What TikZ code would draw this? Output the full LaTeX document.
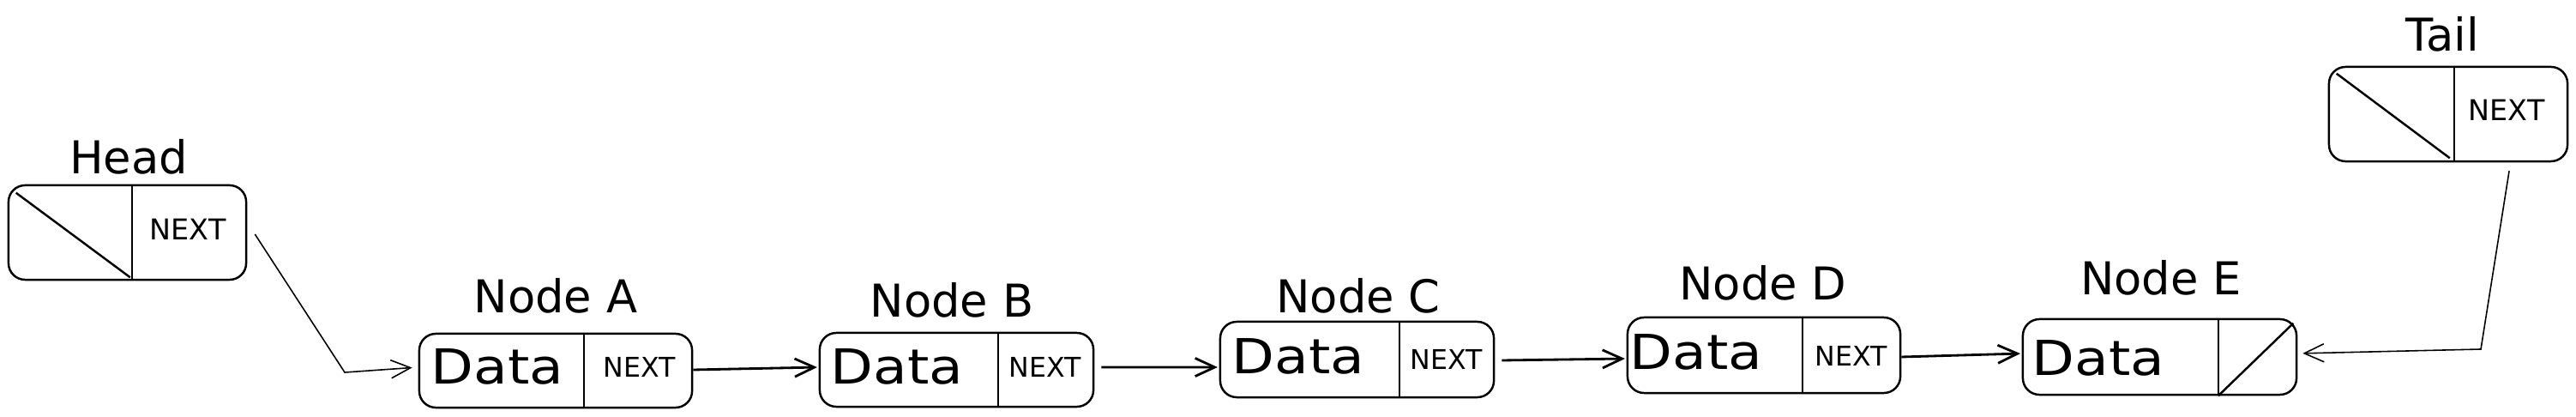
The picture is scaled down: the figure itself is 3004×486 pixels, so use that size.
\documentclass[tikz,border=0pt]{standalone}
\usepackage{fontspec}
\setmainfont{DejaVu Sans}
\usetikzlibrary{arrows.meta}
\tikzset{
  cell/.style={draw, line width=0.7pt, rounded corners=5.5pt, inner sep=0pt},
  ttl/.style={font=\fontsize{15}{18}\selectfont, inner sep=0pt},
  datatxt/.style={font=\fontsize{16}{19}\selectfont, inner sep=0pt},
  nexttxt/.style={font=\fontsize{9}{11}\selectfont, inner sep=0pt},
  bignext/.style={font=\fontsize{9.5}{11}\selectfont, inner sep=0pt},
  part/.style={line width=0.7pt},
  link/.style={line width=0.8pt, -{Straight Barb[length=6.5pt,width=6pt]}, shorten >=0.5pt},
  thinlink/.style={line width=0.45pt, -{Straight Barb[length=6.5pt,width=6pt]}, shorten >=2pt},
}
\begin{document}
\begin{tikzpicture}[x=0.01cm,y=-0.01cm]
\useasboundingbox (0,0) rectangle (3004,486);

% Head
\node[cell, minimum width=2.77cm, minimum height=1.10cm] (H) at (148.5,271) {};
\draw[part] ([xshift=1.45cm]H.north west) -- ([xshift=1.45cm]H.south west);
\draw[part] ([shift={(0.10cm,-0.10cm)}]H.north west) -- ([shift={(1.43cm,0.04cm)}]H.south west);
\node[bignext] (Hn) at (219,267) {NEXT};
\node[ttl] (Hl) at (150,183) {Head};

% Node A
\node[cell, minimum width=3.18cm, minimum height=0.86cm] (A) at (648,432) {};
\draw[part] ([xshift=1.93cm]A.north west) -- ([xshift=1.93cm]A.south west);
\node[datatxt] (Ad) at (580,427) {\scalebox{1.15}[1]{Data}};
\node[nexttxt] (An) at (746,428) {NEXT};
\node[ttl] (Al) at (648,345) {Node A};

% Node B
\node[cell, minimum width=3.19cm, minimum height=0.86cm] (B) at (1115.5,431) {};
\draw[part] ([xshift=2.09cm]B.north west) -- ([xshift=2.09cm]B.south west);
\node[datatxt] (Bd) at (1046,427) {\scalebox{1.15}[1]{Data}};
\node[nexttxt] (Bn) at (1219,428) {NEXT};
\node[ttl] (Bl) at (1110,350) {Node B};

% Node C
\node[cell, minimum width=3.19cm, minimum height=0.88cm] (C) at (1582.5,419) {};
\draw[part] ([xshift=2.10cm]C.north west) -- ([xshift=2.10cm]C.south west);
\node[datatxt] (Cd) at (1514,415) {\scalebox{1.15}[1]{Data}};
\node[nexttxt] (Cn) at (1687,419) {NEXT};
\node[ttl] (Cl) at (1584,345) {Node C};

% Node D
\node[cell, minimum width=3.18cm, minimum height=0.88cm] (D) at (2057,414) {};
\draw[part] ([xshift=2.05cm]D.north west) -- ([xshift=2.05cm]D.south west);
\node[datatxt] (Dd) at (1978,410) {\scalebox{1.15}[1]{Data}};
\node[nexttxt] (Dn) at (2159,415) {NEXT};
\node[ttl] (Dl) at (2056,330) {Node D};

% Node E
\node[cell, minimum width=3.19cm, minimum height=0.88cm] (E) at (2518.5,416) {};
\draw[part] ([xshift=2.29cm]E.north west) -- ([xshift=2.29cm]E.south west);
\draw[part] ([xshift=2.29cm]E.south west) -- ([shift={(-0.05cm,-0.06cm)}]E.north east);
\node[datatxt] (Ed) at (2447,417) {\scalebox{1.15}[1]{Data}};
\node[ttl] (El) at (2520,324) {Node E};

% Tail
\node[cell, minimum width=2.78cm, minimum height=1.10cm] (T) at (2855,133) {};
\draw[part] ([xshift=1.47cm]T.north west) -- ([xshift=1.47cm]T.south west);
\draw[part] ([shift={(0.10cm,-0.09cm)}]T.north west) -- ([shift={(1.42cm,0.05cm)}]T.south west);
\node[bignext] (Tn) at (2923,128) {NEXT};
\node[ttl] (Tl) at (2848,40) {Tail};

% connectors
\coordinate (hb) at (402,434);
\draw[thinlink] ([shift={(0.09cm,-0.02cm)}]H.east) -- (hb) -- ([yshift=0.04cm]A.west);
\draw[link] ([yshift=0.01cm]A.east) -- ([yshift=0.03cm]B.west);
\draw[link] ([shift={(0.08cm,0.03cm)}]B.east) -- ([yshift=-0.09cm]C.west);
\draw[link] ([shift={(0.08cm,-0.01cm)}]C.east) -- ([yshift=-0.04cm]D.west);
\draw[link] ([yshift=-0.02cm]D.east) -- ([yshift=0.04cm]E.west);
\coordinate (tb) at (2893,407);
\draw[thinlink, shorten >=1.7pt] ([shift={(0.71cm,-0.10cm)}]T.south) -- (tb) -- ([yshift=0.04cm]E.east);
\end{tikzpicture}
\end{document}
